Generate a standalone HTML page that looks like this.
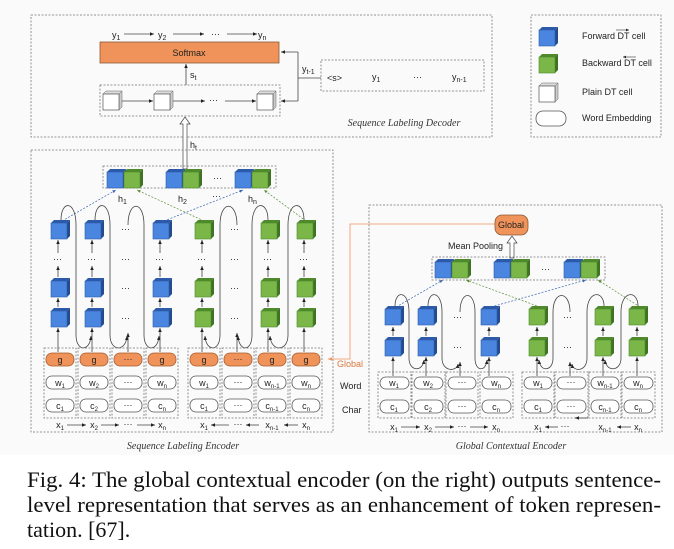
<!DOCTYPE html>
<html><head><meta charset="utf-8"><style>
html,body{margin:0;padding:0;background:#fff;width:674px;height:549px;overflow:hidden}
svg{display:block}
.t{font-family:"Liberation Sans",sans-serif;font-size:9px;fill:#222}
.cap{font-family:"Liberation Serif",serif;font-size:22px;fill:#111}
.it{font-family:"Liberation Serif",serif;font-style:italic;font-size:10px;fill:#333}
.db{fill:none;stroke:#777;stroke-width:0.8;stroke-dasharray:2,1.5}
.ln{fill:none;stroke:#444;stroke-width:0.8}
.pill{fill:#fff;stroke:#555;stroke-width:0.8}
.gp{fill:#ef935a;stroke:#a85b2c;stroke-width:0.8}
</style></head><body>
<svg width="674" height="549" viewBox="0 0 674 549" xmlns="http://www.w3.org/2000/svg">
<defs>
<marker id="a" markerWidth="6" markerHeight="6" refX="5" refY="3" orient="auto"><path d="M0,0.8 L5,3 L0,5.2z" fill="#222"/></marker>
<marker id="ab" markerWidth="6" markerHeight="6" refX="5" refY="3" orient="auto"><path d="M0,0.8 L5,3 L0,5.2z" fill="#3a66b0"/></marker>
<marker id="ag" markerWidth="6" markerHeight="6" refX="5" refY="3" orient="auto"><path d="M0,0.8 L5,3 L0,5.2z" fill="#5a8f35"/></marker>
<marker id="ao" markerWidth="6" markerHeight="6" refX="5" refY="3" orient="auto"><path d="M0,0.8 L5,3 L0,5.2z" fill="#ef935a"/></marker>
<g id="bc"><polygon points="0,3 3,0 19,0 16,3" fill="#2d5aa8"/><polygon points="16,3 19,0 19,16 16,19" fill="#234b8e"/><rect x="0" y="3" width="16" height="16" fill="#4a86e0" stroke="#2d5aa8" stroke-width="0.6"/></g>
<g id="gc"><polygon points="0,3 3,0 19,0 16,3" fill="#4e8a2c"/><polygon points="16,3 19,0 19,16 16,19" fill="#3f7323"/><rect x="0" y="3" width="16" height="16" fill="#7ab648" stroke="#4e8a2c" stroke-width="0.6"/></g>
<g id="pc"><polygon points="0,3 3,0 19,0 16,3" fill="#ddd" stroke="#666" stroke-width="0.5"/><polygon points="16,3 19,0 19,16 16,19" fill="#ccc" stroke="#666" stroke-width="0.5"/><rect x="0" y="3" width="16" height="16" fill="#fff" stroke="#555" stroke-width="0.7"/></g>
<g id="pr"><use href="#bc"/><use href="#gc" x="17"/></g>
</defs>
<rect x="0" y="0" width="674" height="455" fill="#fafafa"/>

<!-- Decoder -->
<rect class="db" x="31" y="15" width="461" height="122"/>
<text class="t" x="112" y="38" font-size="10">y<tspan font-size="7" dy="2">1</tspan></text>
<text class="t" x="158" y="38" font-size="10">y<tspan font-size="7" dy="2">2</tspan></text>
<text class="t" x="211" y="37" font-size="10">···</text>
<text class="t" x="258" y="38" font-size="10">y<tspan font-size="7" dy="2">n</tspan></text>
<line class="ln" x1="124" y1="34" x2="154" y2="34" marker-end="url(#a)"/>
<line class="ln" x1="173" y1="34" x2="204" y2="34" marker-end="url(#a)"/>
<line class="ln" x1="227" y1="34" x2="257" y2="34" marker-end="url(#a)"/>
<rect x="100" y="42" width="179" height="21" fill="#ef935a" stroke="#8a5a3a" stroke-width="0.8"/>
<text class="t" x="189" y="56" font-size="10" text-anchor="middle">Softmax</text>
<line class="ln" x1="186" y1="85" x2="186" y2="64" marker-end="url(#a)"/>
<text class="t" x="190" y="78" font-size="10">s<tspan font-size="7" dy="2">t</tspan></text>
<rect class="db" x="100" y="85" width="180" height="31"/>
<use href="#pc" x="103" y="91"/><use href="#pc" x="154" y="91"/><use href="#pc" x="257" y="91"/>
<line class="ln" x1="122" y1="101" x2="153" y2="101" marker-end="url(#a)"/>
<line class="ln" x1="173" y1="101" x2="205" y2="101" marker-end="url(#a)"/>
<text class="t" x="209" y="103">···</text>
<line class="ln" x1="225" y1="101" x2="256" y2="101" marker-end="url(#a)"/>
<path class="ln" d="M298 52 L298 101"/>
<line class="ln" x1="298" y1="52" x2="281" y2="52" marker-end="url(#a)"/>
<line class="ln" x1="298" y1="101" x2="281" y2="101" marker-end="url(#a)"/>
<line class="ln" x1="298" y1="78" x2="321" y2="78"/>
<text class="t" x="302" y="72" font-size="10">y<tspan font-size="7" dy="2">t-1</tspan></text>
<rect class="db" x="321" y="60" width="163" height="31"/>
<text class="t" x="327" y="81" font-size="7">&lt;s&gt;</text>
<text class="t" x="372" y="80" font-size="10">y<tspan font-size="7" dy="2">1</tspan></text>
<text class="t" x="413" y="80">···</text>
<text class="t" x="452" y="80" font-size="10">y<tspan font-size="7" dy="2">n-1</tspan></text>
<text class="it" x="404" y="126" text-anchor="middle">Sequence Labeling Decoder</text>

<!-- Legend -->
<rect class="db" x="531" y="15" width="130" height="122"/>
<use href="#bc" x="539" y="27"/><use href="#gc" x="539" y="54"/><use href="#pc" x="539" y="83"/>
<rect class="pill" x="536" y="111" width="30" height="15" rx="7"/>
<text class="t" x="582" y="39" font-size="8.5">Forward DT cell</text>
<line x1="616" y1="30" x2="629" y2="30" stroke="#333" stroke-width="0.6" marker-end="url(#a)"/>
<text class="t" x="582" y="66" font-size="8.5">Backward DT cell</text>
<line x1="636" y1="57" x2="623" y2="57" stroke="#333" stroke-width="0.6" marker-end="url(#a)"/>
<text class="t" x="582" y="95" font-size="8.5">Plain DT cell</text>
<text class="t" x="582" y="121" font-size="8.5">Word Embedding</text>

<!-- h_t hollow arrow -->
<path d="M183 169 L183 124 L180 124 L185 117 L190 124 L187 124 L187 169z" fill="#fff" stroke="#444" stroke-width="0.7"/>
<text class="t" x="190" y="148" font-size="10">h<tspan font-size="7" dy="2">t</tspan></text>

<!-- Sequence Labeling Encoder -->
<rect class="db" x="31" y="150" width="302" height="282"/>
<rect class="db" x="103" y="166" width="173" height="22"/>
<use href="#pr" x="107" y="169"/><use href="#pr" x="166" y="169"/><use href="#pr" x="235" y="169"/>
<text class="t" x="213" y="181">···</text>
<text class="t" x="118" y="202" font-size="10">h<tspan font-size="7" dy="2">1</tspan></text>
<text class="t" x="178" y="202" font-size="10">h<tspan font-size="7" dy="2">2</tspan></text>
<text class="t" x="212" y="199">···</text>
<text class="t" x="248" y="202" font-size="10">h<tspan font-size="7" dy="2">n</tspan></text>
<line x1="62" y1="221" x2="116" y2="190" stroke="#3a66b0" stroke-width="0.7" stroke-dasharray="2,1.5" marker-end="url(#ab)"/>
<line x1="164" y1="221" x2="243" y2="190" stroke="#3a66b0" stroke-width="0.7" stroke-dasharray="2,1.5" marker-end="url(#ab)"/>
<line x1="204" y1="221" x2="137" y2="190" stroke="#5a8f35" stroke-width="0.7" stroke-dasharray="2,1.5" marker-end="url(#ag)"/>
<line x1="306" y1="221" x2="264" y2="190" stroke="#5a8f35" stroke-width="0.7" stroke-dasharray="2,1.5" marker-end="url(#ag)"/>

<g>
<use href="#bc" x="51" y="220"/><use href="#bc" x="51" y="278"/><use href="#bc" x="51" y="308"/>
<use href="#bc" x="85" y="220"/><use href="#bc" x="85" y="278"/><use href="#bc" x="85" y="308"/>
<use href="#bc" x="153" y="220"/><use href="#bc" x="153" y="278"/><use href="#bc" x="153" y="308"/>
<use href="#gc" x="195" y="220"/><use href="#gc" x="195" y="278"/><use href="#gc" x="195" y="308"/>
<use href="#gc" x="261" y="220"/><use href="#gc" x="261" y="278"/><use href="#gc" x="261" y="308"/>
<use href="#gc" x="297" y="220"/><use href="#gc" x="297" y="278"/><use href="#gc" x="297" y="308"/>
</g>
<g class="t">
<text x="53" y="262">···</text><text x="87" y="262">···</text><text x="155" y="262">···</text>
<text x="197" y="262">···</text><text x="263" y="262">···</text><text x="299" y="262">···</text>
<text x="121" y="232">···</text><text x="121" y="262">···</text><text x="121" y="291">···</text><text x="121" y="321">···</text>
<text x="230" y="232">···</text><text x="230" y="262">···</text><text x="230" y="291">···</text><text x="230" y="321">···</text>
</g>
<g class="ln">
<line x1="58" y1="352" x2="58" y2="328" marker-end="url(#a)"/><line x1="58" y1="307" x2="58" y2="298" marker-end="url(#a)"/><line x1="58" y1="277" x2="58" y2="266" marker-end="url(#a)"/><line x1="58" y1="253" x2="58" y2="240" marker-end="url(#a)"/>
<line x1="92" y1="352" x2="92" y2="328" marker-end="url(#a)"/><line x1="92" y1="307" x2="92" y2="298" marker-end="url(#a)"/><line x1="92" y1="277" x2="92" y2="266" marker-end="url(#a)"/><line x1="92" y1="253" x2="92" y2="240" marker-end="url(#a)"/>
<line x1="160" y1="352" x2="160" y2="328" marker-end="url(#a)"/><line x1="160" y1="307" x2="160" y2="298" marker-end="url(#a)"/><line x1="160" y1="277" x2="160" y2="266" marker-end="url(#a)"/><line x1="160" y1="253" x2="160" y2="240" marker-end="url(#a)"/>
<line x1="202" y1="352" x2="202" y2="328" marker-end="url(#a)"/><line x1="202" y1="307" x2="202" y2="298" marker-end="url(#a)"/><line x1="202" y1="277" x2="202" y2="266" marker-end="url(#a)"/><line x1="202" y1="253" x2="202" y2="240" marker-end="url(#a)"/>
<line x1="268" y1="352" x2="268" y2="328" marker-end="url(#a)"/><line x1="268" y1="307" x2="268" y2="298" marker-end="url(#a)"/><line x1="268" y1="277" x2="268" y2="266" marker-end="url(#a)"/><line x1="268" y1="253" x2="268" y2="240" marker-end="url(#a)"/>
<line x1="304" y1="352" x2="304" y2="328" marker-end="url(#a)"/><line x1="304" y1="307" x2="304" y2="298" marker-end="url(#a)"/><line x1="304" y1="277" x2="304" y2="266" marker-end="url(#a)"/><line x1="304" y1="253" x2="304" y2="240" marker-end="url(#a)"/>
<line x1="128" y1="352" x2="128" y2="333" marker-end="url(#a)"/><line x1="237" y1="352" x2="237" y2="333" marker-end="url(#a)"/>
<path d="M61 220 C61 200,76 200,76 225 L76 335 C76 352,90 352,91 336" marker-end="url(#a)"/>
<path d="M95 220 C95 200,110 200,110 225 L110 335 C110 352,126 352,127 336" marker-end="url(#a)"/>
<path d="M128 225 C128 200,144 200,144 225 L144 335 C144 352,158 352,159 336" marker-end="url(#a)"/>
<path d="M304 220 C304 200,288 200,288 225 L288 335 C288 352,271 352,270 336" marker-end="url(#a)"/>
<path d="M268 220 C268 200,252 200,252 225 L252 335 C252 352,239 352,238 336" marker-end="url(#a)"/>
<path d="M237 225 C237 200,220 200,220 225 L220 335 C220 352,206 352,205 336" marker-end="url(#a)"/>
</g>
<g>
<rect class="db" x="44" y="348" width="32" height="70"/><rect class="db" x="78" y="348" width="32" height="70"/><rect class="db" x="112" y="348" width="32" height="70"/><rect class="db" x="146" y="348" width="32" height="70"/>
<rect class="db" x="188" y="348" width="32" height="70"/><rect class="db" x="222" y="348" width="32" height="70"/><rect class="db" x="256" y="348" width="32" height="70"/><rect class="db" x="290" y="348" width="32" height="70"/>
</g>
<g>
<rect class="gp" x="46" y="353" width="28" height="13" rx="6"/><rect class="gp" x="80" y="353" width="28" height="13" rx="6"/><rect class="gp" x="114" y="353" width="28" height="13" rx="6"/><rect class="gp" x="148" y="353" width="28" height="13" rx="6"/>
<rect class="gp" x="190" y="353" width="28" height="13" rx="6"/><rect class="gp" x="224" y="353" width="28" height="13" rx="6"/><rect class="gp" x="258" y="353" width="28" height="13" rx="6"/><rect class="gp" x="292" y="353" width="28" height="13" rx="6"/>
<rect class="pill" x="46" y="376" width="28" height="13" rx="6"/><rect class="pill" x="80" y="376" width="28" height="13" rx="6"/><rect class="pill" x="114" y="376" width="28" height="13" rx="6"/><rect class="pill" x="148" y="376" width="28" height="13" rx="6"/>
<rect class="pill" x="190" y="376" width="28" height="13" rx="6"/><rect class="pill" x="224" y="376" width="28" height="13" rx="6"/><rect class="pill" x="258" y="376" width="28" height="13" rx="6"/><rect class="pill" x="292" y="376" width="28" height="13" rx="6"/>
<rect class="pill" x="46" y="399" width="28" height="13" rx="6"/><rect class="pill" x="80" y="399" width="28" height="13" rx="6"/><rect class="pill" x="114" y="399" width="28" height="13" rx="6"/><rect class="pill" x="148" y="399" width="28" height="13" rx="6"/>
<rect class="pill" x="190" y="399" width="28" height="13" rx="6"/><rect class="pill" x="224" y="399" width="28" height="13" rx="6"/><rect class="pill" x="258" y="399" width="28" height="13" rx="6"/><rect class="pill" x="292" y="399" width="28" height="13" rx="6"/>
</g>
<g class="t" text-anchor="middle">
<text x="60" y="363">g</text><text x="94" y="363">g</text><text x="128" y="362">···</text><text x="162" y="363">g</text>
<text x="204" y="363">g</text><text x="238" y="362">···</text><text x="272" y="363">g</text><text x="306" y="363">g</text>
<text x="60" y="386">w<tspan font-size="6" dy="2">1</tspan></text><text x="94" y="386">w<tspan font-size="6" dy="2">2</tspan></text><text x="128" y="385">···</text><text x="162" y="386">w<tspan font-size="6" dy="2">n</tspan></text>
<text x="204" y="386">w<tspan font-size="6" dy="2">1</tspan></text><text x="238" y="385">···</text><text x="272" y="386">w<tspan font-size="6" dy="2">n-1</tspan></text><text x="306" y="386">w<tspan font-size="6" dy="2">n</tspan></text>
<text x="60" y="409">c<tspan font-size="6" dy="2">1</tspan></text><text x="94" y="409">c<tspan font-size="6" dy="2">2</tspan></text><text x="128" y="408">···</text><text x="162" y="409">c<tspan font-size="6" dy="2">n</tspan></text>
<text x="204" y="409">c<tspan font-size="6" dy="2">1</tspan></text><text x="238" y="408">···</text><text x="272" y="409">c<tspan font-size="6" dy="2">n-1</tspan></text><text x="306" y="409">c<tspan font-size="6" dy="2">n</tspan></text>
<text x="60" y="428">x<tspan font-size="6" dy="2">1</tspan></text><text x="94" y="428">x<tspan font-size="6" dy="2">2</tspan></text><text x="128" y="427">···</text><text x="162" y="428">x<tspan font-size="6" dy="2">n</tspan></text>
<text x="204" y="428">x<tspan font-size="6" dy="2">1</tspan></text><text x="238" y="427">···</text><text x="272" y="428">x<tspan font-size="6" dy="2">n-1</tspan></text><text x="306" y="428">x<tspan font-size="6" dy="2">n</tspan></text>
</g>
<g class="ln" stroke="#777">
<line x1="67" y1="425" x2="86" y2="425" marker-end="url(#a)"/><line x1="101" y1="425" x2="119" y2="425" marker-end="url(#a)"/><line x1="137" y1="425" x2="155" y2="425" marker-end="url(#a)"/>
<line x1="229" y1="425" x2="211" y2="425" marker-end="url(#a)"/><line x1="259" y1="425" x2="246" y2="425" marker-end="url(#a)"/><line x1="298" y1="425" x2="284" y2="425" marker-end="url(#a)"/>
</g>
<text class="t" x="337" y="367" style="fill:#d9773c">Global</text>
<text class="t" x="340" y="389">Word</text>
<text class="t" x="342" y="413">Char</text>
<text class="it" x="183" y="449" text-anchor="middle" font-size="9.5">Sequence Labeling Encoder</text>
<path d="M495 224 L350 224 L350 359 L328 359" fill="none" stroke="#ef935a" stroke-width="0.8" marker-end="url(#ao)"/>

<!-- Global Contextual Encoder -->
<rect class="db" x="369" y="205" width="293" height="227"/>
<rect x="495" y="215" width="33" height="20" rx="7" fill="#ef935a" stroke="#8a5a3a" stroke-width="0.8"/>
<text class="t" x="511" y="228" text-anchor="middle">Global</text>
<path d="M510 258 L510 243 L507 243 L512 236 L517 243 L514 243 L514 258z" fill="#fff" stroke="#444" stroke-width="0.7"/>
<text class="t" x="448" y="249">Mean Pooling</text>
<rect class="db" x="432" y="257" width="173" height="23"/>
<use href="#pr" x="435" y="259"/><use href="#pr" x="494" y="259"/><use href="#pr" x="564" y="259"/>
<text class="t" x="541" y="272">···</text>
<line x1="396" y1="307" x2="443" y2="280" stroke="#3a66b0" stroke-width="0.7" stroke-dasharray="2,1.5" marker-end="url(#ab)"/>
<line x1="491" y1="307" x2="586" y2="280" stroke="#3a66b0" stroke-width="0.7" stroke-dasharray="2,1.5" marker-end="url(#ab)"/>
<line x1="540" y1="307" x2="466" y2="280" stroke="#5a8f35" stroke-width="0.7" stroke-dasharray="2,1.5" marker-end="url(#ag)"/>
<line x1="640" y1="307" x2="598" y2="280" stroke="#5a8f35" stroke-width="0.7" stroke-dasharray="2,1.5" marker-end="url(#ag)"/>
<use href="#bc" x="385" y="306"/><use href="#bc" x="385" y="337"/>
<use href="#bc" x="418" y="306"/><use href="#bc" x="418" y="337"/>
<use href="#bc" x="481" y="306"/><use href="#bc" x="481" y="337"/>
<use href="#gc" x="529" y="306"/><use href="#gc" x="529" y="337"/>
<use href="#gc" x="595" y="306"/><use href="#gc" x="595" y="337"/>
<use href="#gc" x="629" y="306"/><use href="#gc" x="629" y="337"/>
<g class="t"><text x="453" y="320">···</text><text x="453" y="350">···</text><text x="563" y="320">···</text><text x="563" y="350">···</text></g>
<g class="ln">
<line x1="393" y1="376" x2="393" y2="357" marker-end="url(#a)"/><line x1="393" y1="336" x2="393" y2="327" marker-end="url(#a)"/>
<line x1="426" y1="376" x2="426" y2="357" marker-end="url(#a)"/><line x1="426" y1="336" x2="426" y2="327" marker-end="url(#a)"/>
<line x1="489" y1="376" x2="489" y2="357" marker-end="url(#a)"/><line x1="489" y1="336" x2="489" y2="327" marker-end="url(#a)"/>
<line x1="537" y1="376" x2="537" y2="357" marker-end="url(#a)"/><line x1="537" y1="336" x2="537" y2="327" marker-end="url(#a)"/>
<line x1="603" y1="376" x2="603" y2="357" marker-end="url(#a)"/><line x1="603" y1="336" x2="603" y2="327" marker-end="url(#a)"/>
<line x1="637" y1="376" x2="637" y2="357" marker-end="url(#a)"/><line x1="637" y1="336" x2="637" y2="327" marker-end="url(#a)"/>
<line x1="460" y1="376" x2="460" y2="362" marker-end="url(#a)"/><line x1="570" y1="376" x2="570" y2="362" marker-end="url(#a)"/>
<path d="M395 306 C395 290,409 290,409 312 L409 358 C409 372,423 372,424 360" marker-end="url(#a)"/>
<path d="M428 306 C428 290,442 290,442 312 L442 358 C442 372,457 372,458 364" marker-end="url(#a)"/>
<path d="M460 312 C460 290,475 290,475 312 L475 358 C475 372,486 372,487 360" marker-end="url(#a)"/>
<path d="M638 306 C638 290,621 290,621 312 L621 358 C621 372,606 372,605 360" marker-end="url(#a)"/>
<path d="M604 306 C604 290,587 290,587 312 L587 358 C587 372,573 372,572 364" marker-end="url(#a)"/>
<path d="M570 312 C570 290,553 290,553 312 L553 358 C553 372,540 372,539 360" marker-end="url(#a)"/>
</g>
<g>
<rect class="db" x="378" y="372" width="33" height="46"/><rect class="db" x="412" y="372" width="33" height="46"/><rect class="db" x="446" y="372" width="32" height="46"/><rect class="db" x="480" y="372" width="33" height="46"/>
<rect class="db" x="522" y="372" width="32" height="46"/><rect class="db" x="555" y="372" width="33" height="46"/><rect class="db" x="589" y="372" width="32" height="46"/><rect class="db" x="622" y="372" width="33" height="46"/>
<rect class="pill" x="380" y="377" width="29" height="12" rx="6"/><rect class="pill" x="414" y="377" width="29" height="12" rx="6"/><rect class="pill" x="448" y="377" width="28" height="12" rx="6"/><rect class="pill" x="482" y="377" width="29" height="12" rx="6"/>
<rect class="pill" x="524" y="377" width="28" height="12" rx="6"/><rect class="pill" x="557" y="377" width="29" height="12" rx="6"/><rect class="pill" x="591" y="377" width="28" height="12" rx="6"/><rect class="pill" x="624" y="377" width="29" height="12" rx="6"/>
<rect class="pill" x="380" y="400" width="29" height="13" rx="6"/><rect class="pill" x="414" y="400" width="29" height="13" rx="6"/><rect class="pill" x="448" y="400" width="28" height="13" rx="6"/><rect class="pill" x="482" y="400" width="29" height="13" rx="6"/>
<rect class="pill" x="524" y="400" width="28" height="13" rx="6"/><rect class="pill" x="557" y="400" width="29" height="13" rx="6"/><rect class="pill" x="591" y="400" width="28" height="13" rx="6"/><rect class="pill" x="624" y="400" width="29" height="13" rx="6"/>
</g>
<g class="t" text-anchor="middle">
<text x="394" y="386">w<tspan font-size="6" dy="2">1</tspan></text><text x="428" y="386">w<tspan font-size="6" dy="2">2</tspan></text><text x="462" y="385">···</text><text x="496" y="386">w<tspan font-size="6" dy="2">n</tspan></text>
<text x="538" y="386">w<tspan font-size="6" dy="2">1</tspan></text><text x="571" y="385">···</text><text x="605" y="386">w<tspan font-size="6" dy="2">n-1</tspan></text><text x="638" y="386">w<tspan font-size="6" dy="2">n</tspan></text>
<text x="394" y="410">c<tspan font-size="6" dy="2">1</tspan></text><text x="428" y="410">c<tspan font-size="6" dy="2">2</tspan></text><text x="462" y="409">···</text><text x="496" y="410">c<tspan font-size="6" dy="2">n</tspan></text>
<text x="538" y="410">c<tspan font-size="6" dy="2">1</tspan></text><text x="571" y="409">···</text><text x="605" y="410">c<tspan font-size="6" dy="2">n-1</tspan></text><text x="638" y="410">c<tspan font-size="6" dy="2">n</tspan></text>
<text x="394" y="430">x<tspan font-size="6" dy="2">1</tspan></text><text x="428" y="430">x<tspan font-size="6" dy="2">2</tspan></text><text x="462" y="429">···</text><text x="496" y="430">x<tspan font-size="6" dy="2">n</tspan></text>
<text x="538" y="430">x<tspan font-size="6" dy="2">1</tspan></text><text x="565" y="429">···</text><text x="605" y="430">x<tspan font-size="6" dy="2">n-1</tspan></text><text x="638" y="430">x<tspan font-size="6" dy="2">n</tspan></text>
</g>
<g class="ln" stroke="#777">
<line x1="401" y1="427" x2="420" y2="427" marker-end="url(#a)"/><line x1="435" y1="427" x2="454" y2="427" marker-end="url(#a)"/><line x1="470" y1="427" x2="488" y2="427" marker-end="url(#a)"/>
<line x1="558" y1="427" x2="545" y2="427" marker-end="url(#a)"/><line x1="588" y1="418" x2="575" y2="418" marker-end="url(#a)"/><line x1="631" y1="427" x2="617" y2="427" marker-end="url(#a)"/>
</g>
<text class="it" x="511" y="449" text-anchor="middle" font-size="9.5">Global Contextual Encoder</text>

<!-- Caption -->
<text class="cap" x="27" y="487" textLength="634" lengthAdjust="spacingAndGlyphs">Fig. 4: The global contextual encoder (on the right) outputs sentence-</text>
<text class="cap" x="27" y="512" textLength="634" lengthAdjust="spacingAndGlyphs">level representation that serves as an enhancement of token represen-</text>
<text class="cap" x="27" y="537">tation. [67].</text>
</svg>
</body></html>
